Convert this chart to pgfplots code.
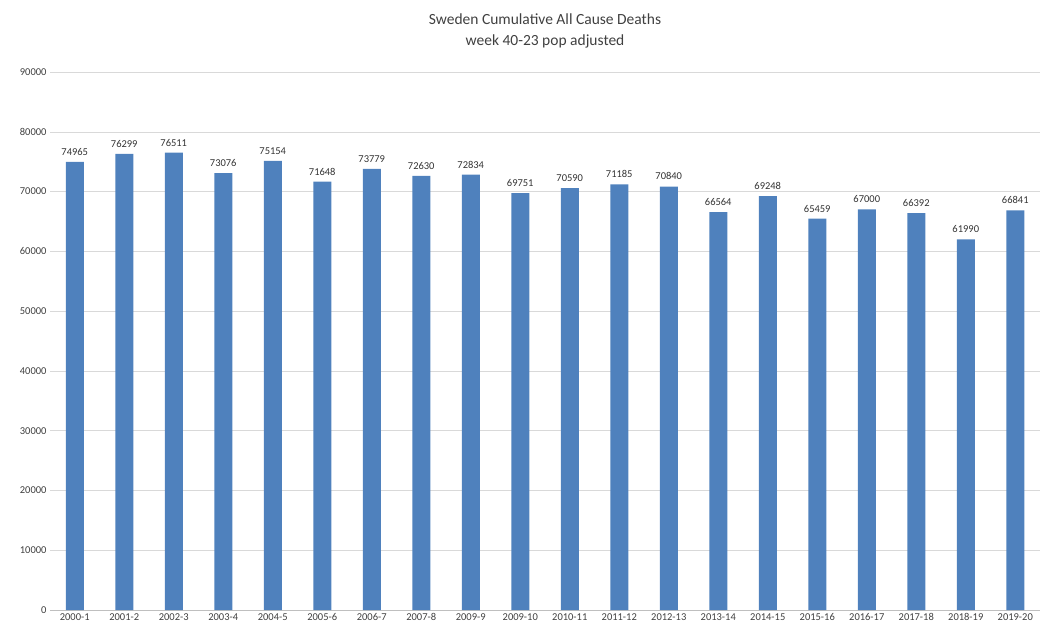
\documentclass[border=0pt]{standalone}
\usepackage{pgfplots}
\pgfplotsset{compat=1.18}
\usepackage{fontspec}
\setmainfont{Carlito}
\definecolor{bar}{HTML}{4F81BD}
\begin{document}
\begin{tikzpicture}[x=1pt,y=1pt]
\path[use as bounding box] (0,0) rectangle (1052,643);
\begin{axis}[at={(50pt,33pt)},anchor=south west,scale only axis,
 width=990pt,height=538pt,
 xmin=-0.5,xmax=19.5,ymin=0,ymax=90000,
 ytick={0,10000,...,90000},
 xtick=data,
 xticklabels={2000-1,2001-2,2002-3,2003-4,2004-5,2005-6,2006-7,2007-8,2009-9,2009-10,2010-11,2011-12,2012-13,2013-14,2014-15,2015-16,2016-17,2017-18,2018-19,2019-20},
 scaled y ticks=false,
 /pgf/number format/assume math mode=true,
 yticklabel style={/pgf/number format/fixed,/pgf/number format/1000 sep={},font=\fontsize{10.5}{12}\selectfont,color=black!75},
 xticklabel style={font=\fontsize{10.5}{12}\selectfont,color=black!75},
 axis x line*=bottom, axis y line*=left,
 x axis line style={draw=black!25,-},
 y axis line style={draw=none},
 major tick length=0pt,
 ymajorgrids, grid style={draw=black!15},
 title={Sweden Cumulative All Cause Deaths\\week 40-23 pop adjusted},
 title style={align=center,font=\fontsize{15.5}{21}\selectfont,color=black!75,yshift=14pt},
 nodes near coords,
 nodes near coords style={font=\fontsize{10.5}{12}\selectfont,color=black!80,/pgf/number format/fixed,/pgf/number format/1000 sep={},yshift=3pt},
 clip=false]
\addplot[ybar,bar width=18pt,fill=bar,draw=none] coordinates {
(0,74965)(1,76299)(2,76511)(3,73076)(4,75154)(5,71648)(6,73779)(7,72630)(8,72834)(9,69751)
(10,70590)(11,71185)(12,70840)(13,66564)(14,69248)(15,65459)(16,67000)(17,66392)(18,61990)(19,66841)};
\end{axis}
\end{tikzpicture}
\end{document}
